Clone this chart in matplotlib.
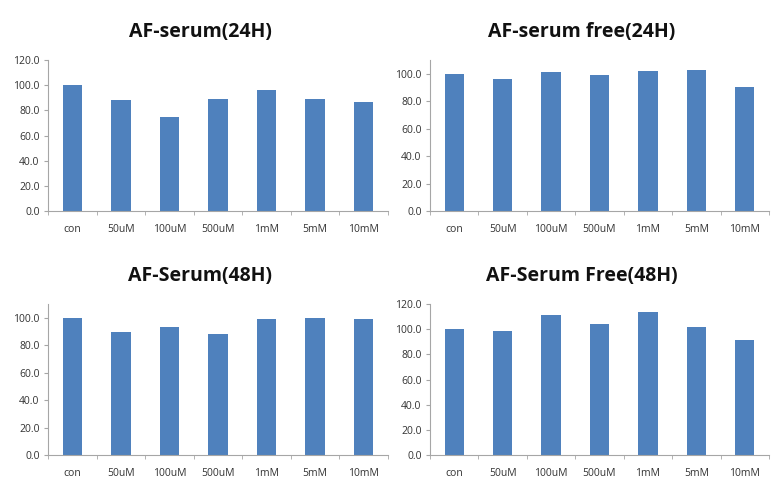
import numpy as np
import matplotlib
matplotlib.use("Agg")
import matplotlib.pyplot as plt

plt.rcParams['font.family'] = ['Open Sans', 'DejaVu Sans']

categories = ['con', '50uM', '100uM', '500uM', '1mM', '5mM', '10mM']

serum_24h = [100.0, 88.0, 75.0, 89.3, 96.0, 88.8, 86.4]
serum_free_24h = [100.0, 96.1, 101.0, 99.0, 101.7, 102.4, 90.5]
serum_48h = [100.0, 89.8, 93.2, 88.1, 99.0, 99.8, 99.0]
serum_free_48h = [100.0, 98.7, 111.5, 104.3, 113.6, 101.4, 91.6]

titles = ['AF-serum(24H)', 'AF-serum free(24H)', 'AF-Serum(48H)', 'AF-Serum Free(48H)']
series = [serum_24h, serum_free_24h, serum_48h, serum_free_48h]
ymax = [120, 110, 110, 120]

bar_color = '#4F81BD'
axis_color = '#A6A6A6'

W, H = 782, 488
fig = plt.figure(figsize=(W / 100, H / 100), dpi=100)

# axes boxes in pixels: left, top, right, bottom ; title centre x, y
boxes = [
    (48, 60, 388, 211, 200, 32),
    (430, 60, 769, 211, 582, 32),
    (48, 304, 388, 455, 200, 276),
    (430, 304, 769, 455, 582, 276),
]

x = np.arange(len(categories))
for (l, t, r, b, tx, ty), vals, title, ym in zip(boxes, series, titles, ymax):
    ax = fig.add_axes([l / W, 1 - b / H, (r - l) / W, (b - t) / H])
    ax.bar(x, vals, width=0.4, color=bar_color, zorder=2)
    ax.set_xlim(-0.5, len(categories) - 0.5)
    ax.set_ylim(0, ym)
    ax.set_yticks(np.arange(0, ym + 1, 20))
    ax.set_yticklabels([f'{v:.1f}' for v in np.arange(0, ym + 1, 20)])
    ax.set_xticks(x)
    ax.set_xticklabels(categories)
    ax.set_xticks(np.arange(-0.5, len(categories)), minor=True)
    ax.tick_params(axis='x', which='major', length=0, pad=9, labelsize=7.5, labelcolor='#333333')
    ax.tick_params(axis='x', which='minor', length=3, color=axis_color, direction='out')
    ax.tick_params(axis='y', length=3, color=axis_color, direction='out', pad=3,
                   labelsize=7.5, labelcolor='#333333')
    for s in ['top', 'right']:
        ax.spines[s].set_visible(False)
    for s in ['left', 'bottom']:
        ax.spines[s].set_color(axis_color)
        ax.spines[s].set_linewidth(0.8)
    fig.text(tx / W, 1 - ty / H, title, ha='center', va='center',
             fontsize=14, fontweight='bold', color='#111111')

fig.savefig('out.png', dpi=100)
